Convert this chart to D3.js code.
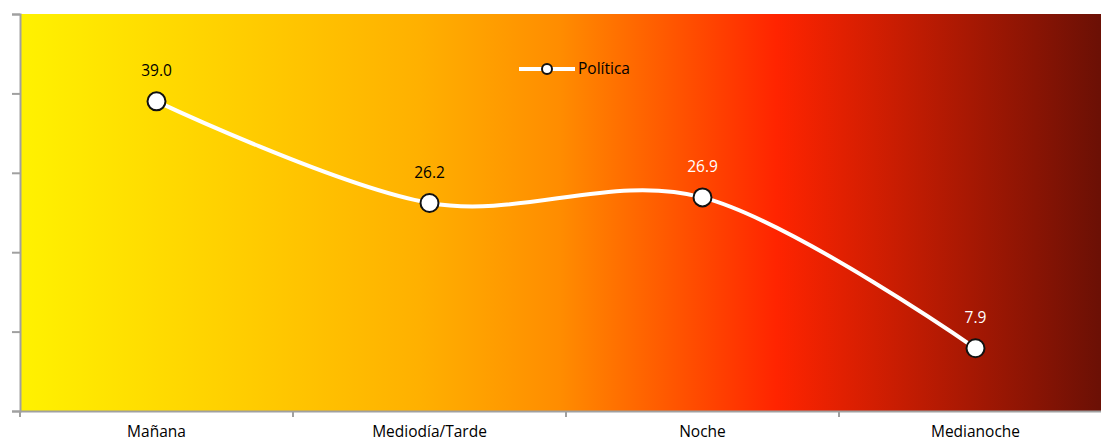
<!DOCTYPE html>
<html><head><meta charset="utf-8">
<script src="https://cdn.jsdelivr.net/npm/d3@7"></script>
<style>body{margin:0;background:#fff}svg{display:block}</style>
</head><body>
<svg id="c" width="1101" height="443"></svg>
<script>
const categories = ["Mañana","Mediodía/Tarde","Noche","Medianoche"];
const values = [39.0, 26.2, 26.9, 7.9];
const labelColors = ["#000","#000","#fff","#fff"];
const seriesName = "Política";
const yTicks = [0,10,20,30,40,50];

const FONT = "'Open Sans', Lato, sans-serif";
const FS = 15.5;
const svg = d3.select("#c");
const m = {l:20, r:1112, t:14, b:411, vis:1101};
const x = d3.scaleBand().domain(categories).range([m.l, m.r]).padding(0);
const y = d3.scaleLinear().domain([0,50]).range([m.b, m.t]);

const defs = svg.append("defs");
const g = defs.append("linearGradient").attr("id","bg").attr("x1","0").attr("x2","1").attr("y1","0").attr("y2","0");
[[0,"#fff200"],[0.37,"#ffb000"],[0.5,"#ff8c00"],[0.7,"#ff2400"],[1,"#6b1005"]].forEach(([o,c])=>g.append("stop").attr("offset",o).attr("stop-color",c));

svg.append("rect").attr("x",m.l).attr("y",m.t).attr("width",m.vis-m.l).attr("height",m.b-m.t).attr("fill","url(#bg)");

// y axis
const ya = svg.append("g").attr("transform",`translate(${m.l},0)`)
  .call(d3.axisLeft(y).tickValues(yTicks).tickSize(8).tickFormat(""));
ya.selectAll("path").attr("stroke","#a0a0a0").attr("stroke-width",2);
ya.selectAll("line").attr("stroke","#a0a0a0").attr("stroke-width",2);

// x axis
const xa = svg.append("g").attr("transform",`translate(0,${m.b})`)
  .call(d3.axisBottom(x).tickSize(0).tickFormat(""));
xa.select("path").attr("stroke","#a0a0a0").attr("stroke-width",2);
const bounds = categories.map(c=>x(c));
svg.append("g").selectAll("line").data(bounds).join("line")
  .attr("x1",d=>d).attr("x2",d=>d).attr("y1",m.b).attr("y2",m.b+6)
  .attr("stroke","#a0a0a0").attr("stroke-width",2);
svg.append("g").selectAll("text").data(categories).join("text")
  .attr("x",d=>x(d)+x.bandwidth()/2).attr("y",437)
  .attr("text-anchor","middle").attr("font-family",FONT).attr("font-size",FS)
  .attr("fill","#000").text(d=>d);

const cx = (d,i)=>x(categories[i])+x.bandwidth()/2;
const line = d3.line().x(cx).y(d=>y(d)).curve(d3.curveCardinal.tension(0));
svg.append("path").datum(values).attr("d",line).attr("fill","none").attr("stroke","#fff").attr("stroke-width",4);

svg.append("g").selectAll("circle").data(values).join("circle")
  .attr("cx",cx).attr("cy",d=>y(d)).attr("r",9)
  .attr("fill","#fff").attr("stroke","#111").attr("stroke-width",2);

svg.append("g").selectAll("text").data(values).join("text")
  .attr("x",cx).attr("y",d=>y(d)-25)
  .attr("text-anchor","middle").attr("font-family",FONT).attr("font-size",FS)
  .attr("fill",(d,i)=>labelColors[i]).text(d=>d.toFixed(1));

// legend
const lg = svg.append("g");
lg.append("line").attr("x1",519).attr("x2",575).attr("y1",69).attr("y2",69).attr("stroke","#fff").attr("stroke-width",4);
lg.append("circle").attr("cx",547).attr("cy",69).attr("r",5).attr("fill","#fff").attr("stroke","#111").attr("stroke-width",2);
lg.append("text").attr("x",578).attr("y",74).attr("font-family",FONT).attr("font-size",FS).attr("fill","#000").text(seriesName);
</script>
</body></html>
